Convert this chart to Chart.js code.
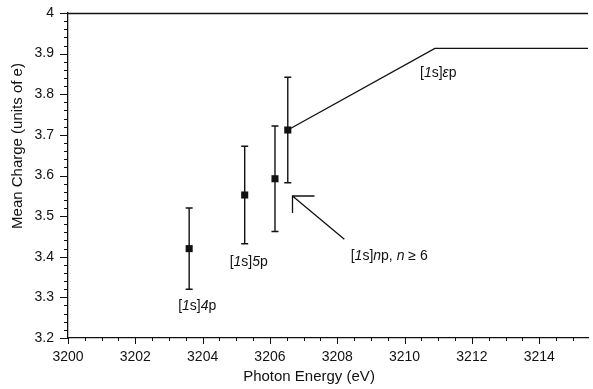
<!DOCTYPE html>
<html>
<head>
<meta charset="utf-8">
<script src="https://cdn.jsdelivr.net/npm/chart.js@4/dist/chart.umd.min.js"></script>
<style>
  html, body { margin: 0; padding: 0; background: #fff; overflow: hidden; }
  #wrap { width: 593px; height: 389px; position: relative; }
  canvas { display: block; }
</style>
</head>
<body>
<div id="wrap"><canvas id="chargeChart"></canvas></div>
<script>
// measured points (photon energy, mean charge, error)
const energies = [3203.6, 3205.25, 3206.15, 3206.53];
const meanCharge = [3.42, 3.552, 3.592, 3.712];
const chargeErr = [0.1, 0.12, 0.13, 0.13];

// [1s]εp threshold line
const limitEnergy = [3206.53, 3210.9, 3215.5];
const limitCharge = [3.712, 3.913, 3.913];

// arrow pointing at the np series (tail -> tip)
const arrowEnergy = [3208.21, 3206.67];
const arrowCharge = [3.443, 3.5495];

const xTickLabels = [3200, 3202, 3204, 3206, 3208, 3210, 3212, 3214];
const yTickLabels = [3.2, 3.3, 3.4, 3.5, 3.6, 3.7, 3.8, 3.9, 4];

const FONT = '"Liberation Sans", Arial, sans-serif';
const INK = '#111';

// draw text made of upright / italic pieces
function drawRich(ctx, parts, x, y, size, align) {
    let total = 0;
    parts.forEach(p => {
        ctx.font = (p[1] ? 'italic ' : '') + size + 'px ' + FONT;
        total += ctx.measureText(p[0]).width;
    });
    let cx = align === 'center' ? x - total / 2 : x;
    parts.forEach(p => {
        ctx.font = (p[1] ? 'italic ' : '') + size + 'px ' + FONT;
        ctx.fillText(p[0], cx, y);
        cx += ctx.measureText(p[0]).width;
    });
}

const decorations = {
    id: 'decorations',
    beforeDatasetsDraw(chart) {
        const ctx = chart.ctx;
        const xs = chart.scales.x, ys = chart.scales.y;
        ctx.save();
        ctx.strokeStyle = INK;
        ctx.lineWidth = 1.4;
        // error bars
        energies.forEach((e, i) => {
            const px = xs.getPixelForValue(e);
            const top = ys.getPixelForValue(meanCharge[i] + chargeErr[i]);
            const bot = ys.getPixelForValue(meanCharge[i] - chargeErr[i]);
            ctx.beginPath();
            ctx.moveTo(px, top); ctx.lineTo(px, bot);
            ctx.moveTo(px - 3.5, top); ctx.lineTo(px + 3.5, top);
            ctx.moveTo(px - 3.5, bot); ctx.lineTo(px + 3.5, bot);
            ctx.stroke();
        });
        ctx.restore();
    },
    afterDraw(chart) {
        const ctx = chart.ctx;
        const xs = chart.scales.x, ys = chart.scales.y;
        const area = chart.chartArea;
        ctx.save();
        ctx.strokeStyle = INK;
        ctx.fillStyle = INK;
        ctx.lineWidth = 1.3;

        // frame top
        ctx.beginPath();
        ctx.moveTo(area.left, area.top + 0.5);
        ctx.lineTo(area.right, area.top + 0.5);
        ctx.stroke();

        // tick marks
        ctx.lineWidth = 1;
        ctx.beginPath();
        for (let v = 3200; v <= xs.max + 1e-9; v += 0.5) {
            const px = Math.round(xs.getPixelForValue(v)) + 0.5;
            const major = Math.abs(v / 2 - Math.round(v / 2)) < 1e-6;
            ctx.moveTo(px, area.bottom);
            ctx.lineTo(px, area.bottom + (major ? 6 : 3));
        }
        for (let k = 0; k <= 40; k++) {
            const v = 3.2 + k * 0.02;
            const py = Math.round(ys.getPixelForValue(v)) + 0.5;
            ctx.moveTo(area.left, py);
            ctx.lineTo(area.left - (k % 5 === 0 ? 8 : 4), py);
        }
        ctx.stroke();

        // arrow
        const tx = xs.getPixelForValue(arrowEnergy[1]);
        const ty = ys.getPixelForValue(arrowCharge[1]);
        ctx.lineWidth = 1.3;
        ctx.beginPath();
        ctx.moveTo(xs.getPixelForValue(arrowEnergy[0]), ys.getPixelForValue(arrowCharge[0]));
        ctx.lineTo(tx, ty);
        ctx.moveTo(tx + 22, ty); ctx.lineTo(tx, ty); ctx.lineTo(tx, ty + 17);
        ctx.stroke();

        // axis titles
        ctx.textBaseline = 'middle';
        ctx.textAlign = 'left';
        drawRich(ctx, [['Photon Energy (eV)', false]], 309, 377, 15, 'center');
        ctx.save();
        ctx.translate(18, 146);
        ctx.rotate(-Math.PI / 2);
        drawRich(ctx, [['Mean Charge (units of e)', false]], 0, 0, 15, 'center');
        ctx.restore();

        // state labels
        drawRich(ctx, [['[', false], ['1', true], ['s]', false], ['4', true], ['p', false]],
            xs.getPixelForValue(3203.84), ys.getPixelForValue(3.279), 14, 'center');
        drawRich(ctx, [['[', false], ['1', true], ['s]', false], ['5', true], ['p', false]],
            xs.getPixelForValue(3205.37), ys.getPixelForValue(3.387), 14, 'center');
        drawRich(ctx, [['[', false], ['1', true], ['s]', false], ['n', true], ['p, ', false], ['n', true], [' \u2265 6', false]],
            xs.getPixelForValue(3208.4), ys.getPixelForValue(3.402), 14, 'left');
        drawRich(ctx, [['[', false], ['1', true], ['s]', false], ['\u03b5', true], ['p', false]],
            xs.getPixelForValue(3210.46), ys.getPixelForValue(3.852), 14, 'left');
        ctx.restore();
    }
};

const ctx = document.getElementById('chargeChart').getContext('2d');
const chargeChart = new Chart(ctx, {
    type: 'scatter',
    data: {
        datasets: [{
            label: 'np',
            data: energies.map((e, i) => ({ x: e, y: meanCharge[i] })),
            pointStyle: 'rect',
            pointRadius: 5,
            backgroundColor: INK,
            borderColor: INK,
            borderWidth: 0
        }, {
            label: 'εp',
            type: 'line',
            data: limitEnergy.map((e, i) => ({ x: e, y: limitCharge[i] })),
            borderColor: INK,
            borderWidth: 1.4,
            pointRadius: 0,
            fill: false,
            tension: 0
        }]
    },
    options: {
        responsive: true,
        maintainAspectRatio: false,
        animation: false,
        layout: { padding: { top: 13, right: -5, left: 0, bottom: 0 } },
        plugins: {
            legend: { display: false },
            tooltip: { enabled: false }
        },
        scales: {
            x: {
                type: 'linear',
                min: 3200,
                max: 3215.45,
                grid: { display: false, drawTicks: false },
                border: { display: true, color: INK, width: 1.3 },
                afterBuildTicks: s => { s.ticks = xTickLabels.map(v => ({ value: v })); },
                afterFit: s => { s.height = 51; s.paddingLeft = 0; s.paddingRight = 0; },
                ticks: {
                    color: INK,
                    padding: 11,
                    maxRotation: 0,
                    autoSkip: false,
                    font: { family: FONT, size: 14 },
                    callback: v => String(v)
                }
            },
            y: {
                type: 'linear',
                min: 3.2,
                max: 4,
                grid: { display: false, drawTicks: false },
                border: { display: true, color: INK, width: 1.3 },
                afterBuildTicks: s => { s.ticks = yTickLabels.map(v => ({ value: v })); },
                afterFit: s => { s.width = 68; s.paddingTop = 0; s.paddingBottom = 0; },
                ticks: {
                    color: INK,
                    padding: 14,
                    autoSkip: false,
                    font: { family: FONT, size: 14 },
                    callback: v => String(Number(v.toFixed(1)))
                }
            }
        }
    },
    plugins: [decorations]
});
</script>
</body>
</html>
